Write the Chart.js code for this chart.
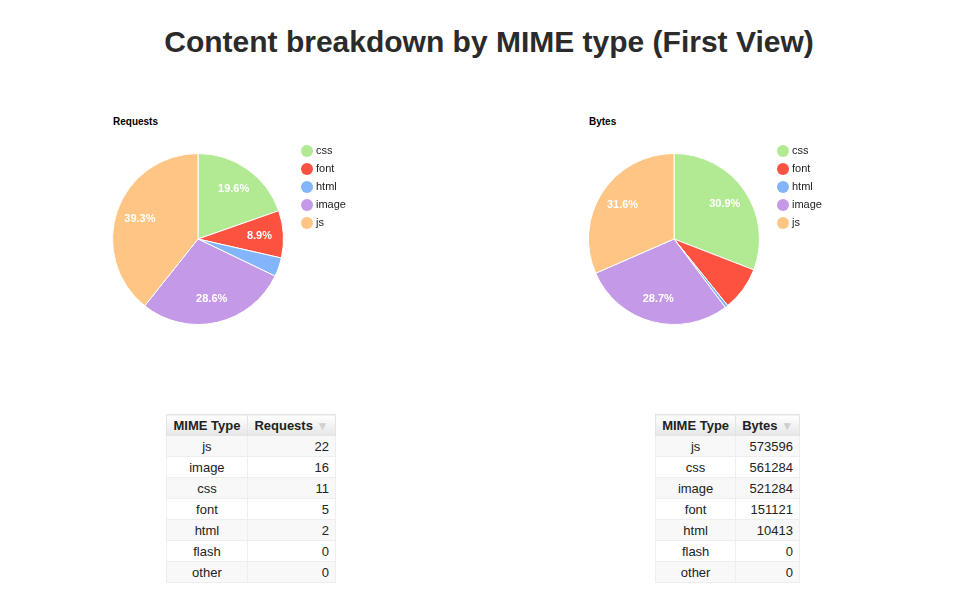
<!DOCTYPE html>
<html>
<head>
<meta charset="utf-8">
<script src="https://cdn.jsdelivr.net/npm/chart.js@4/dist/chart.umd.min.js"></script>
<style>
  body { margin: 0; background: #fff; font-family: "Liberation Sans", Arial, sans-serif; }
  #page { position: relative; width: 963px; height: 597px; }
  h1 { position: absolute; left: 0; width: 978px; top: 25px; margin: 0; text-align: center;
       font-size: 30px; font-weight: bold; color: #2b2b2b; }
  .ptitle { position: absolute; font-size: 10px; font-weight: bold; color: #000; }
  .box { position: absolute; }
  table { position: absolute; border-collapse: collapse; font-size: 13px; color: #222; }
  th { background: linear-gradient(#fff, #e6e6e6); font-weight: bold; border: 1px solid #e4e4e4;
       padding: 2px 5px; height: 16px; white-space: nowrap; }
  td { border: 1px solid #eee; padding: 2px 6px; height: 16px; }
  td.c { text-align: center; }
  td.n { text-align: right; }
  tr:nth-child(even) td { background: #f8f8f8; }
  .arrow { color: #cfcfcf; font-size: 12px; }
</style>
</head>
<body>
<div id="page">
  <h1>Content breakdown by MIME type (First View)</h1>
  <div class="ptitle" style="left:113px; top:116px;">Requests</div>
  <div class="ptitle" style="left:589px; top:116px;">Bytes</div>
  <div class="box" style="left:100px; top:144px; width:270px; height:190px;"><canvas id="reqChart" width="270" height="190"></canvas></div>
  <div class="box" style="left:576px; top:144px; width:270px; height:190px;"><canvas id="bytesChart" width="270" height="190"></canvas></div>
  <table id="reqTable" style="left:166px; top:414px; width:170px;"></table>
  <table id="bytesTable" style="left:655px; top:414px; width:145px;"></table>
</div>
<script>
// pie categories (legend order)
const pieLabels = ['css', 'font', 'html', 'image', 'js'];
const pieColors = ['#b2ea94', '#fe5240', '#82b5fc', '#c49ae8', '#fec584'];
const requestValues = [11, 5, 2, 16, 22];
const byteValues = [561284, 151121, 10413, 521284, 573596];

// table rows (sorted as in the page)
const reqTableTypes = ['js', 'image', 'css', 'font', 'html', 'flash', 'other'];
const reqTableValues = [22, 16, 11, 5, 2, 0, 0];
const bytesTableTypes = ['js', 'css', 'image', 'font', 'html', 'flash', 'other'];
const bytesTableValues = [573596, 561284, 521284, 151121, 10413, 0, 0];

// slices smaller than this get no label
const labelThreshold = 0.085;

// white percentage labels inside slices
const sliceLabels = {
    id: 'sliceLabels',
    afterDatasetsDraw(chart) {
        const ctx = chart.ctx;
        const data = chart.data.datasets[0].data;
        const total = data.reduce((a, b) => a + b, 0);
        ctx.save();
        ctx.font = 'bold 11px "Liberation Sans", Arial, sans-serif';
        ctx.fillStyle = '#fff';
        ctx.textAlign = 'center';
        ctx.textBaseline = 'middle';
        chart.getDatasetMeta(0).data.forEach((arc, i) => {
            const frac = data[i] / total;
            if (frac < labelThreshold) return;
            const mid = (arc.startAngle + arc.endAngle) / 2;
            const r = arc.outerRadius * 0.72;
            ctx.fillText((frac * 100).toFixed(1) + '%', arc.x + Math.cos(mid) * r, arc.y + Math.sin(mid) * r);
        });
        ctx.restore();
    }
};

// legend to the right of the pie
const sideLegend = {
    id: 'sideLegend',
    afterDraw(chart) {
        const ctx = chart.ctx;
        const ds = chart.data.datasets[0];
        ctx.save();
        ctx.font = '11px "Liberation Sans", Arial, sans-serif';
        ctx.textBaseline = 'middle';
        chart.data.labels.forEach((label, i) => {
            const y = 7 + i * 18;
            ctx.beginPath();
            ctx.arc(207, y, 6, 0, Math.PI * 2);
            ctx.fillStyle = ds.backgroundColor[i];
            ctx.fill();
            ctx.fillStyle = '#222';
            ctx.fillText(label, 216, y);
        });
        ctx.restore();
    }
};

function makePie(id, values) {
    new Chart(document.getElementById(id), {
        type: 'pie',
        data: {
            labels: pieLabels,
            datasets: [{
                data: values,
                backgroundColor: pieColors,
                borderColor: '#fff',
                borderWidth: 1
            }]
        },
        options: {
            responsive: false,
            animation: false,
            layout: { padding: { left: 12, top: 9, bottom: 9, right: 86 } },
            plugins: {
                legend: { display: false },
                tooltip: { enabled: false }
            }
        },
        plugins: [sliceLabels, sideLegend]
    });
}

function fillTable(id, header, types, values) {
    const t = document.getElementById(id);
    let html = '<tr><th>MIME Type</th><th>' + header + ' <span class="arrow">&#9660;</span></th></tr>';
    types.forEach((type, i) => {
        html += '<tr><td class="c">' + type + '</td><td class="n">' + values[i] + '</td></tr>';
    });
    t.innerHTML = html;
}

makePie('reqChart', requestValues);
makePie('bytesChart', byteValues);
fillTable('reqTable', 'Requests', reqTableTypes, reqTableValues);
fillTable('bytesTable', 'Bytes', bytesTableTypes, bytesTableValues);
</script>
</body>
</html>
